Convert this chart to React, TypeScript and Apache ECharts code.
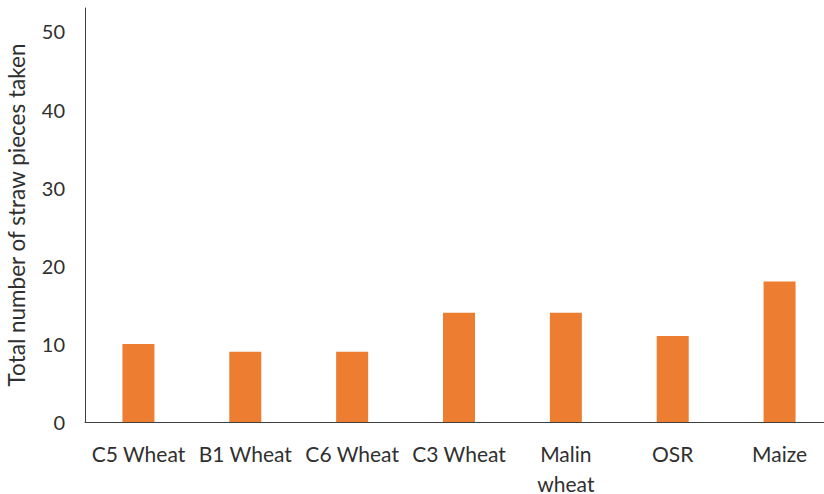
import React, { useEffect, useRef } from "react";
import * as echarts from "echarts";

const categories = ["C5 Wheat", "B1 Wheat", "C6 Wheat", "C3 Wheat", "Malin\nwheat", "OSR", "Maize"];
const values = [10, 9, 9, 14, 14, 11, 18];
const yTicks = [0, 10, 20, 30, 40, 50];

export default function App() {
  const ref = useRef<HTMLDivElement>(null);
  useEffect(() => {
    const chart = echarts.init(ref.current!, null, { renderer: "svg" });
    chart.setOption({
      animation: false,
      grid: { left: 85, top: 8, width: 748, height: 414, containLabel: false, outerBoundsMode: "none" },
      xAxis: {
        type: "category",
        data: categories,
        axisLine: { lineStyle: { color: "#404040", width: 1 } },
        axisTick: { show: false },
        axisLabel: {
          color: "#303030",
          fontFamily: "Lato",
          fontSize: 21,
          margin: 16,
          lineHeight: 30,
          interval: 0,
        },
      },
      yAxis: {
        type: "value",
        min: 0,
        max: 53,
        interval: 10,
        name: "Total number of straw pieces taken",
        nameLocation: "middle",
        nameGap: 57,
        nameTextStyle: { color: "#303030", fontFamily: "Lato", fontSize: 22.5 },
        splitLine: { show: false },
        axisLine: { show: true, lineStyle: { color: "#404040", width: 1 } },
        axisTick: { show: false },
        axisLabel: {
          color: "#303030",
          fontFamily: "Lato",
          fontSize: 20,
          margin: 20,
          showMaxLabel: false,
          formatter: (v: number) => (yTicks.includes(v) ? String(v) : ""),
        },
      },
      series: [
        {
          type: "bar",
          data: values,
          barWidth: 32,
          itemStyle: { color: "#ED7D31" },
        },
      ],
    });
    return () => chart.dispose();
  }, []);
  return <div ref={ref} style={{ width: 824, height: 494, position: "absolute", left: 0, top: 0 }} />;
}
